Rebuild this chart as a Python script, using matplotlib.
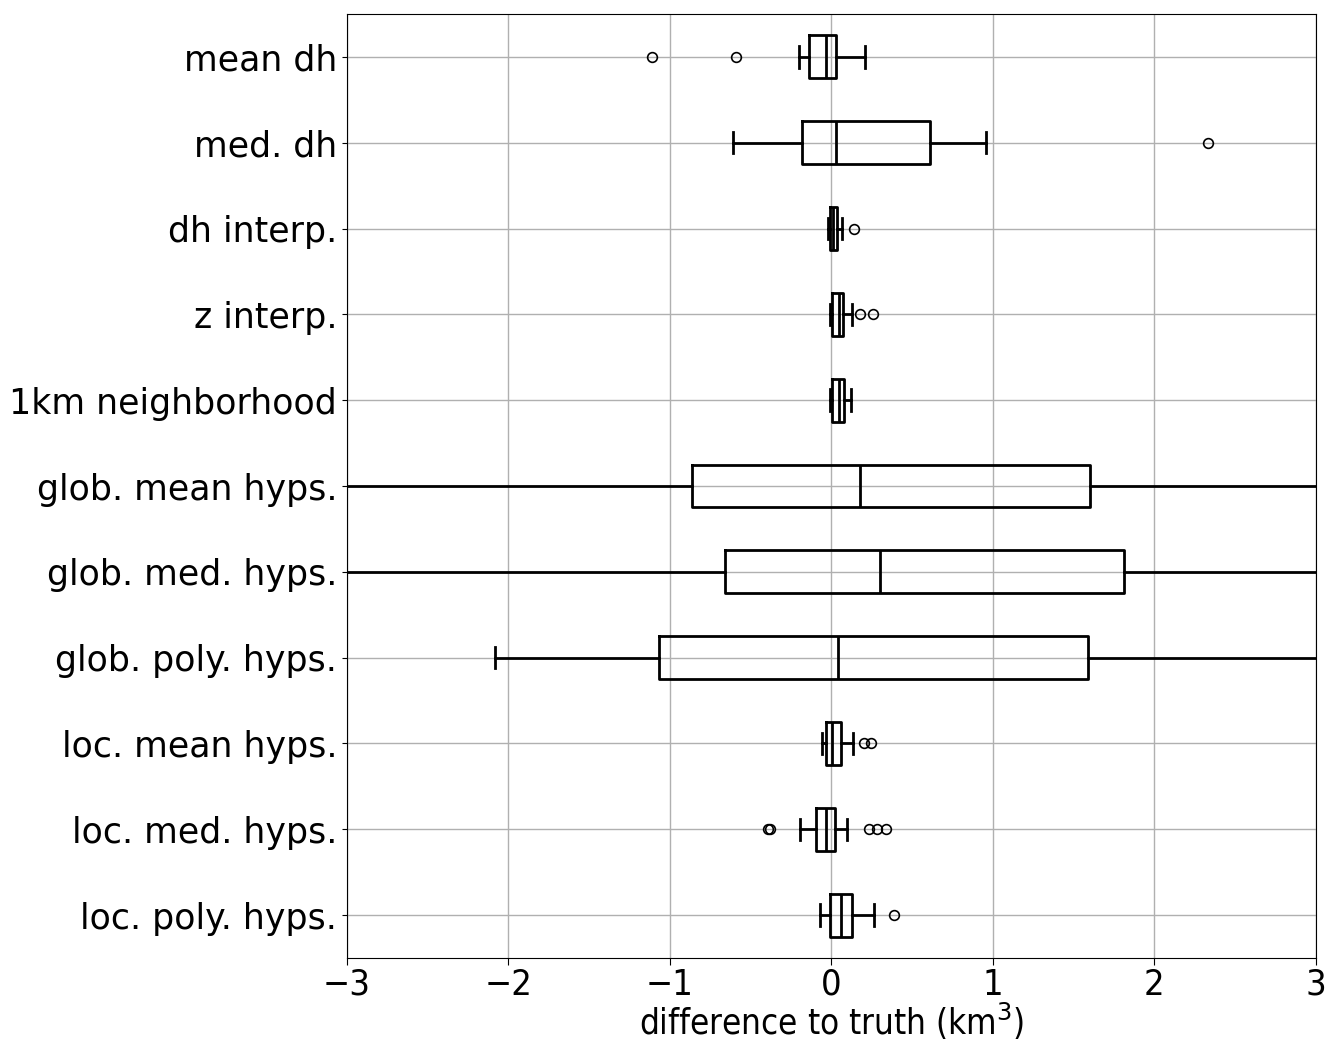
import matplotlib
matplotlib.use("Agg")
import matplotlib.pyplot as plt

labels = ["mean dh", "med. dh", "dh interp.", "z interp.", "1km neighborhood",
          "glob. mean hyps.", "glob. med. hyps.", "glob. poly. hyps.",
          "loc. mean hyps.", "loc. med. hyps.", "loc. poly. hyps."]
whislo = [-0.20, -0.61, -0.02, -0.01, -0.005, -4.5, -4.5, -2.08, -0.055, -0.193, -0.073]
q1 = [-0.14, -0.18, -0.005, 0.007, 0.005, -0.864, -0.66, -1.07, -0.03, -0.092, -0.011]
med = [-0.03, 0.03, 0.01, 0.045, 0.048, 0.176, 0.30, 0.04, 0.007, -0.034, 0.063]
q3 = [0.03, 0.61, 0.034, 0.073, 0.077, 1.60, 1.81, 1.59, 0.061, 0.022, 0.129]
whishi = [0.21, 0.96, 0.065, 0.13, 0.12, 4.5, 4.5, 4.5, 0.135, 0.098, 0.265]
fliers = [[-1.11, -0.59], [2.33], [0.14], [0.18, 0.26], [], [], [], [],
          [0.20, 0.246], [-0.395, -0.38, 0.232, 0.286, 0.34], [0.389]]

stats = []
for i, lab in enumerate(labels):
    stats.append(dict(label=lab, whislo=whislo[i], q1=q1[i], med=med[i],
                      q3=q3[i], whishi=whishi[i], fliers=fliers[i]))

fig = plt.figure(figsize=(13.29, 10.46), dpi=100)
ax = fig.add_axes([0.261, 0.0841, 0.729, 0.9025])
lw = 2.0
ax.bxp(stats, vert=False, widths=0.5, showfliers=True,
       boxprops=dict(color="black", linewidth=lw),
       medianprops=dict(color="black", linewidth=lw),
       whiskerprops=dict(color="black", linewidth=lw),
       capprops=dict(color="black", linewidth=lw),
       flierprops=dict(marker="o", markerfacecolor="none", markeredgecolor="black",
                       markersize=7, markeredgewidth=1.2))
ax.set_xlim(-3, 3)
ax.set_ylim(11.5, 0.5)
ax.grid(True, color="#b0b0b0", linewidth=1.0)
ax.set_axisbelow(True)
ax.tick_params(axis="y", labelsize=25)
ax.tick_params(axis="x", labelsize=26, length=5, pad=2)
for t in ax.get_xticklabels():
    t.set_fontstretch("condensed")
ax.set_xlabel("difference to truth (km$^3$)", fontsize=25, fontstretch="condensed",
              labelpad=-1)
fig.savefig("out.png", dpi=100)
